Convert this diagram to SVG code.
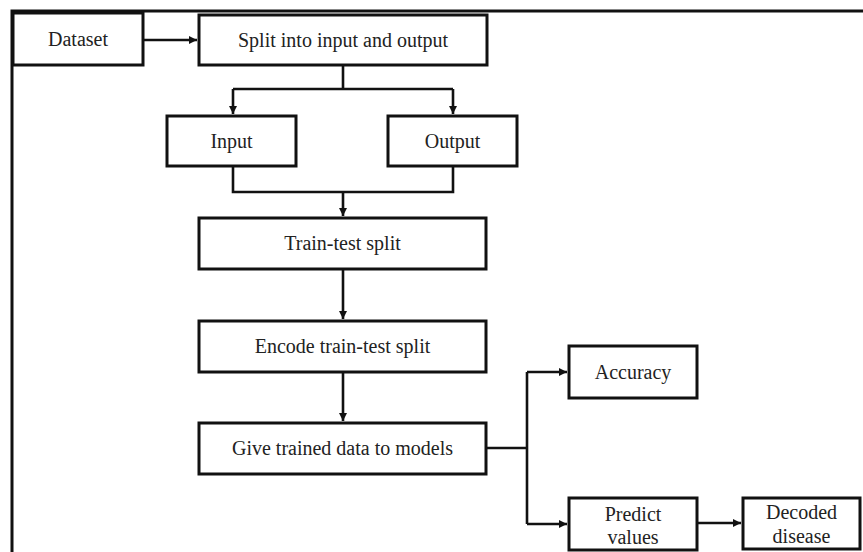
<svg xmlns="http://www.w3.org/2000/svg" width="863" height="552" viewBox="0 0 863 552">
<style>
.box{fill:#fff;stroke:#111;stroke-width:3}
.t{font-family:"Liberation Serif","Times New Roman",serif;font-size:20px;fill:#222;text-anchor:middle}
.c{fill:none;stroke:#111;stroke-width:2.6}
.frame{fill:none;stroke:#111;stroke-width:3}
</style>
<defs>
<marker id="ah" viewBox="0 0 10 10" refX="10" refY="5" markerWidth="9" markerHeight="8" markerUnits="userSpaceOnUse" orient="auto">
<path d="M0,0 L10,5 L0,10 z" fill="#111"/>
</marker>
</defs>
<rect width="863" height="552" fill="#fff"/>
<path class="frame" d="M12,552 V11 H863"/>
<g id="connectors">
<path class="c" d="M143,40 H197" marker-end="url(#ah)"/>
<path class="c" d="M343,65 V89"/>
<path class="c" d="M233,89 H453"/>
<path class="c" d="M233,89 V114" marker-end="url(#ah)"/>
<path class="c" d="M453,89 V114" marker-end="url(#ah)"/>
<path class="c" d="M233,166 V192 H453 V166"/>
<path class="c" d="M343,192 V216" marker-end="url(#ah)"/>
<path class="c" d="M343,269 V319" marker-end="url(#ah)"/>
<path class="c" d="M343,372 V421" marker-end="url(#ah)"/>
<path class="c" d="M486,448 H527"/>
<path class="c" d="M527,372 V524"/>
<path class="c" d="M527,372 H567" marker-end="url(#ah)"/>
<path class="c" d="M527,524 H567" marker-end="url(#ah)"/>
<path class="c" d="M697,523 H741" marker-end="url(#ah)"/>
</g>
<g id="dataset"><rect class="box" x="13" y="13" width="130" height="52"/><text class="t" x="78" y="46">Dataset</text></g>
<g id="split"><rect class="box" x="199" y="15" width="288" height="50"/><text class="t" x="343" y="47">Split into input and output</text></g>
<g id="input"><rect class="box" x="167" y="116" width="129" height="50"/><text class="t" x="231.5" y="148">Input</text></g>
<g id="output"><rect class="box" x="388" y="116" width="129" height="50"/><text class="t" x="452.5" y="148">Output</text></g>
<g id="train"><rect class="box" x="199" y="218" width="287" height="51"/><text class="t" x="342.5" y="250">Train-test split</text></g>
<g id="encode"><rect class="box" x="199" y="321" width="287" height="51"/><text class="t" x="342.5" y="353">Encode train-test split</text></g>
<g id="give"><rect class="box" x="199" y="423" width="287" height="51"/><text class="t" x="342.5" y="455">Give trained data to models</text></g>
<g id="accuracy"><rect class="box" x="569" y="346" width="128" height="52"/><text class="t" x="633" y="379">Accuracy</text></g>
<g id="predict"><rect class="box" x="569" y="498" width="128" height="52"/><text class="t" x="633" y="521">Predict</text><text class="t" x="633" y="544">values</text></g>
<g id="decoded"><rect class="box" x="743" y="498" width="117" height="51"/><text class="t" x="801.5" y="519">Decoded</text><text class="t" x="801.5" y="543">disease</text></g>
</svg>
